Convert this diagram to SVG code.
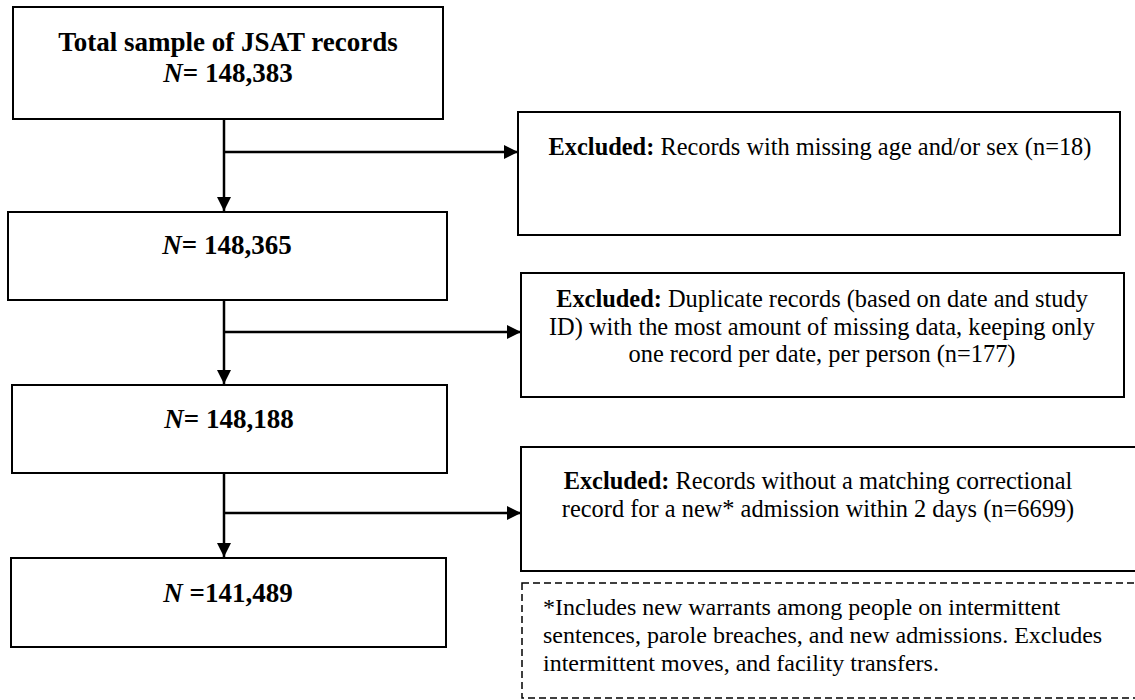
<svg xmlns="http://www.w3.org/2000/svg" width="1135" height="700" viewBox="0 0 1135 700">
  <style>
    .box { fill: #ffffff; stroke: #000000; stroke-width: 2; }
    .dash { fill: #ffffff; stroke: #000000; stroke-width: 1.5; stroke-dasharray: 7 4; }
    .main { font-family: "Liberation Serif", "Times New Roman", serif; font-size: 27px; font-weight: bold; fill: #000000; text-anchor: middle; }
    .ex { font-family: "Liberation Serif", "Times New Roman", serif; font-size: 24.4px; fill: #000000; text-anchor: middle; }
    .note { font-family: "Liberation Serif", "Times New Roman", serif; font-size: 24px; fill: #000000; }
    .b { font-weight: bold; }
    .i { font-style: italic; }
    .conn { fill: none; stroke: #000000; stroke-width: 2.5; }
  </style>
  <defs>
    <marker id="arrow" markerUnits="userSpaceOnUse" markerWidth="14" markerHeight="14" viewBox="0 0 14 14" refX="14" refY="7" orient="auto">
      <path d="M0,0 L14,7 L0,14 Z" fill="#000000"/>
    </marker>
  </defs>
  <rect width="1135" height="700" fill="#ffffff"/>

  <g id="connectors">
    <line class="conn" x1="224" y1="120" x2="224" y2="211" marker-end="url(#arrow)"/>
    <line class="conn" x1="224" y1="152" x2="518" y2="152" marker-end="url(#arrow)"/>
    <line class="conn" x1="224" y1="300" x2="224" y2="384" marker-end="url(#arrow)"/>
    <line class="conn" x1="224" y1="332" x2="521" y2="332" marker-end="url(#arrow)"/>
    <line class="conn" x1="224" y1="473" x2="224" y2="557" marker-end="url(#arrow)"/>
    <line class="conn" x1="225" y1="513" x2="521" y2="513" marker-end="url(#arrow)"/>
  </g>

  <g id="total">
    <rect class="box" x="13" y="7" width="430" height="112"/>
    <text class="main" x="228" y="51">Total sample of JSAT records</text>
    <text class="main" x="228" y="82"><tspan class="i">N</tspan>= 148,383</text>
  </g>

  <g id="n148365">
    <rect class="box" x="8" y="212" width="439" height="88"/>
    <text class="main" x="227" y="254"><tspan class="i">N</tspan>= 148,365</text>
  </g>

  <g id="n148188">
    <rect class="box" x="12" y="385" width="435" height="88"/>
    <text class="main" x="229" y="428"><tspan class="i">N</tspan>= 148,188</text>
  </g>

  <g id="n141489">
    <rect class="box" x="11" y="558" width="435" height="89"/>
    <text class="main" x="228" y="602"><tspan class="i">N</tspan> =141,489</text>
  </g>

  <g id="excluded1">
    <rect class="box" x="518" y="112" width="602" height="123"/>
    <text class="ex" x="820" y="155"><tspan class="b">Excluded:</tspan> Records with missing age and/or sex (n=18)</text>
  </g>

  <g id="excluded2">
    <rect class="box" x="521" y="273" width="603" height="124"/>
    <text class="ex" x="822" y="307"><tspan class="b">Excluded:</tspan> Duplicate records (based on date and study</text>
    <text class="ex" x="822" y="335">ID) with the most amount of missing data, keeping only</text>
    <text class="ex" x="822" y="362">one record per date, per person (n=177)</text>
  </g>

  <g id="excluded3">
    <rect class="box" x="521" y="447" width="620" height="124"/>
    <text class="ex" x="818" y="489"><tspan class="b">Excluded:</tspan> Records without a matching correctional</text>
    <text class="ex" x="818" y="517">record for a new* admission within 2 days (n=6699)</text>
  </g>

  <g id="footnote">
    <rect class="dash" x="522" y="583" width="620" height="115"/>
    <text class="note" x="543" y="615">*Includes new warrants among people on intermittent</text>
    <text class="note" x="543" y="643">sentences, parole breaches, and new admissions. Excludes</text>
    <text class="note" x="543" y="671">intermittent moves, and facility transfers.</text>
  </g>
</svg>
